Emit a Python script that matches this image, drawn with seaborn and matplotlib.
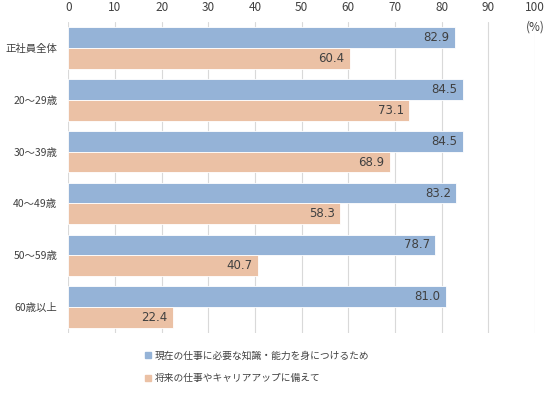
import pandas as pd
import seaborn as sns
import matplotlib.pyplot as plt

categories = ['正社員全体', '20～29歳', '30～39歳', '40～49歳', '50～59歳', '60歳以上']
series_names = ['現在の仕事に必要な知識・能力を身につけるため', '将来の仕事やキャリアアップに備えて']
current_job = [82.9, 84.5, 84.5, 83.2, 78.7, 81.0]
future_career = [60.4, 73.1, 68.9, 58.3, 40.7, 22.4]

df = pd.DataFrame({
    'category': categories * 2,
    'series': [series_names[0]] * len(categories) + [series_names[1]] * len(categories),
    'value': current_job + future_career,
})

sns.set_style('white')
plt.rcParams['font.family'] = ['Noto Sans CJK JP', 'DejaVu Sans']

fig = plt.figure(figsize=(5.56, 3.95), dpi=100)
ax = fig.add_axes([0.1229, 0.157, 0.8391, 0.787])

palette = {series_names[0]: '#95B3D7', series_names[1]: '#EBC1A5'}
sns.barplot(data=df, y='category', x='value', hue='series', palette=palette,
            orient='h', width=0.8, saturation=1, edgecolor='white', linewidth=0.6,
            ax=ax, legend=False)

for cont in ax.containers:
    labels = ax.bar_label(cont, fmt='%.1f', padding=-4, fontsize=8.5, color='#404040',
                          family=['DejaVu Sans'])
    for t in labels:
        t.set_ha('right')

ax.set_xlim(0, 100)
ax.set_xticks(range(0, 101, 10))
ax.xaxis.tick_top()
ax.tick_params(axis='both', length=0, colors='#404040')
ax.tick_params(axis='x', pad=6, labelsize=8.5)
ax.tick_params(axis='y', pad=8, labelsize=7.5)
ax.set_xlabel('')
ax.set_ylabel('')
ax.grid(axis='x', color='#D9D9D9', linewidth=0.8)
ax.set_axisbelow(True)
for s in ax.spines.values():
    s.set_visible(False)
ax.set_ylim(5.5, -0.5)

ax.text(100, -0.4, '(%)', ha='center', va='center', fontsize=8.5, color='#404040')

handles = [plt.Rectangle((0, 0), 1, 1, color=palette[n]) for n in series_names]
fig.legend(handles, series_names, loc='upper left', bbox_to_anchor=(0.245, 0.135),
           frameon=False, fontsize=7, handlelength=0.6, handleheight=0.6,
           handletextpad=0.4, labelspacing=1.3, labelcolor='#404040')

fig.savefig('out.png', dpi=100)
